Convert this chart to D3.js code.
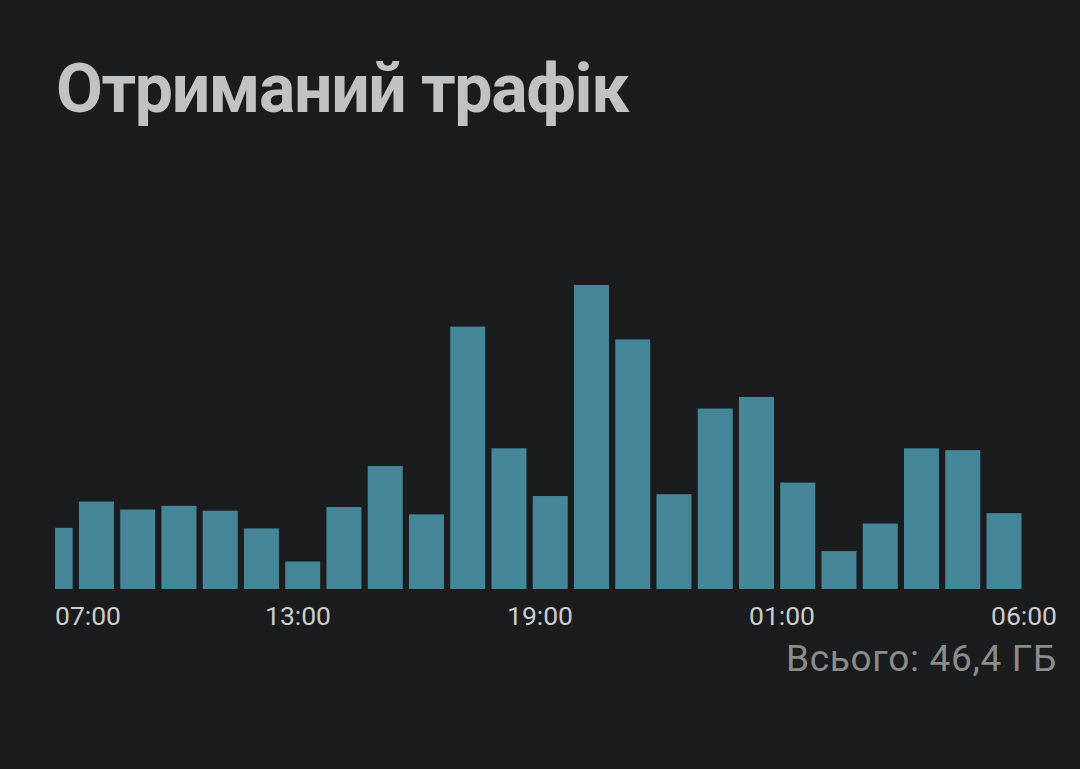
<!DOCTYPE html>
<html>
<head>
<meta charset="utf-8">
<script src="https://cdn.jsdelivr.net/npm/d3@7"></script>
<style>
  html, body { margin: 0; padding: 0; background: #1b1c1e; }
  svg { display: block; }
</style>
</head>
<body>
<svg id="chart" width="1080" height="769"></svg>
<script>
// ---- data ----
const title = "Отриманий трафік";
const totalLabel = "Всього: 46,4 ГБ";
// hourly received traffic, GB (24 buckets, first partially visible)
const hours = ["06","07","08","09","10","11","12","13","14","15","16","17",
               "18","19","20","21","22","23","00","01","02","03","04","05"];
const values = [1.00, 1.43, 1.30, 1.36, 1.28, 0.99, 0.45, 1.34, 2.01, 1.22, 4.29, 2.30,
                1.52, 4.97, 4.08, 1.55, 2.95, 3.14, 1.74, 0.62, 1.07, 2.30, 2.27, 1.24];
const tickLabels = ["07:00", "13:00", "19:00", "01:00", "06:00"];

// ---- layout ----
const W = 1080, H = 769;
const plotLeft = 55, plotRight = 1057;
const barsLeft = 37.7, barsRight = 1021.5;
const yBottom = 589, yTop = 285;
const FONT = "Roboto, 'Noto Sans', sans-serif";

const svg = d3.select("#chart");
svg.append("rect").attr("width", W).attr("height", H).attr("fill", "#1b1c1e");

function fitWidth(sel, target) {
  const n = sel.text().length;
  const w = sel.node().getComputedTextLength();
  sel.attr("letter-spacing", (target - w) / n);
}

const titleText = svg.append("text")
  .attr("x", 56).attr("y", 112)
  .attr("font-family", FONT)
  .attr("font-weight", 700)
  .attr("font-size", 68)
  .attr("fill", "#c2c2c2")
  .text(title);
fitWidth(titleText, 572);

const x = d3.scaleBand().domain(hours).range([barsLeft, barsRight]).paddingInner(0.152).paddingOuter(0);
const y = d3.scaleLinear().domain([0, d3.max(values)]).range([yBottom, yTop]);

svg.append("clipPath").attr("id", "plotclip")
  .append("rect").attr("x", plotLeft).attr("y", 0).attr("width", plotRight - plotLeft).attr("height", H);

svg.append("g").attr("clip-path", "url(#plotclip)")
  .selectAll("rect").data(values).join("rect")
  .attr("x", (d, i) => x(hours[i]))
  .attr("width", x.bandwidth())
  .attr("y", d => y(d))
  .attr("height", d => y(0) - y(d))
  .attr("fill", "#458799");

// tick labels
const xl = d3.scalePoint().domain(tickLabels).range([56, 1024]);
const tg = svg.append("g");
tickLabels.forEach(t => {
  const txt = tg.append("text")
    .attr("x", xl(t)).attr("y", 624.5)
    .attr("text-anchor", "middle")
    .attr("font-family", FONT)
    .attr("font-size", 26.5)
    .attr("fill", "#cdcdcd")
    .text(t);
  const w = txt.node().getComputedTextLength();
  if (xl(t) - w / 2 < plotLeft) txt.attr("text-anchor", "start").attr("x", plotLeft);
  else if (xl(t) + w / 2 > plotRight) txt.attr("text-anchor", "end").attr("x", plotRight);
});

const total = svg.append("text")
  .attr("x", plotRight).attr("y", 670.5)
  .attr("text-anchor", "end")
  .attr("font-family", FONT)
  .attr("font-size", 37)
  .attr("fill", "#8c8c8c")
  .text(totalLabel);
fitWidth(total, 271);
</script>
</body>
</html>
